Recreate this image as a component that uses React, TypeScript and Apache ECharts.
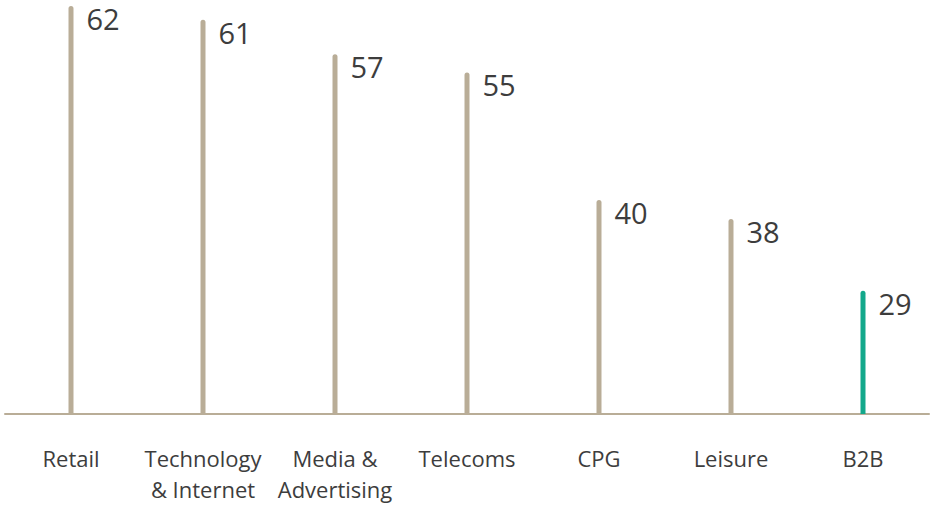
import React, { useEffect, useRef } from "react";
import * as echarts from "echarts";

const categories = ["Retail", "Technology\n& Internet", "Media &\nAdvertising", "Telecoms", "CPG", "Leisure", "B2B"];
const values = [62.3, 60.7, 56.7, 54.6, 39.8, 37.6, 29.3];
const highlighted = ["B2B"];

const TAN = "#b9ad97";
const TEAL = "#13a88b";
const TEXT = "#3d3d3d";
const FONT = "Open Sans";

export default function App() {
  const ref = useRef<HTMLDivElement>(null);
  useEffect(() => {
    const chart = echarts.init(ref.current!, null, { renderer: "svg" });
    chart.setOption({
      animation: false,
      grid: { left: 5, right: 7, top: 0, bottom: 91, containLabel: false },
      xAxis: {
        type: "category",
        data: categories,
        axisLine: { show: true, lineStyle: { color: TAN, width: 2 } },
        axisTick: { show: false },
        axisLabel: {
          color: TEXT,
          fontFamily: FONT,
          fontSize: 22,
          lineHeight: 31,
          margin: 28,
          interval: 0,
        },
      },
      yAxis: {
        type: "value",
        min: 15,
        max: 63,
        show: false,
        splitLine: { show: false },
      },
      series: [
        {
          type: "bar",
          barWidth: 5,
          data: values.map((v, i) => ({
            value: v,
            itemStyle: {
              color: highlighted.includes(categories[i]) ? TEAL : TAN,
              borderRadius: [2.5, 2.5, 0, 0],
            },
          })),
          label: {
            show: true,
            position: [18, -2],
            align: "left",
            verticalAlign: "top",
            color: TEXT,
            fontFamily: FONT,
            fontSize: 29,
            lineHeight: 29,
            formatter: (p: any) => String(Math.round(p.value)),
          },
        },
      ],
    });
    return () => chart.dispose();
  }, []);
  return <div ref={ref} style={{ width: 936, height: 505, position: "absolute", left: 0, top: 0 }} />;
}
